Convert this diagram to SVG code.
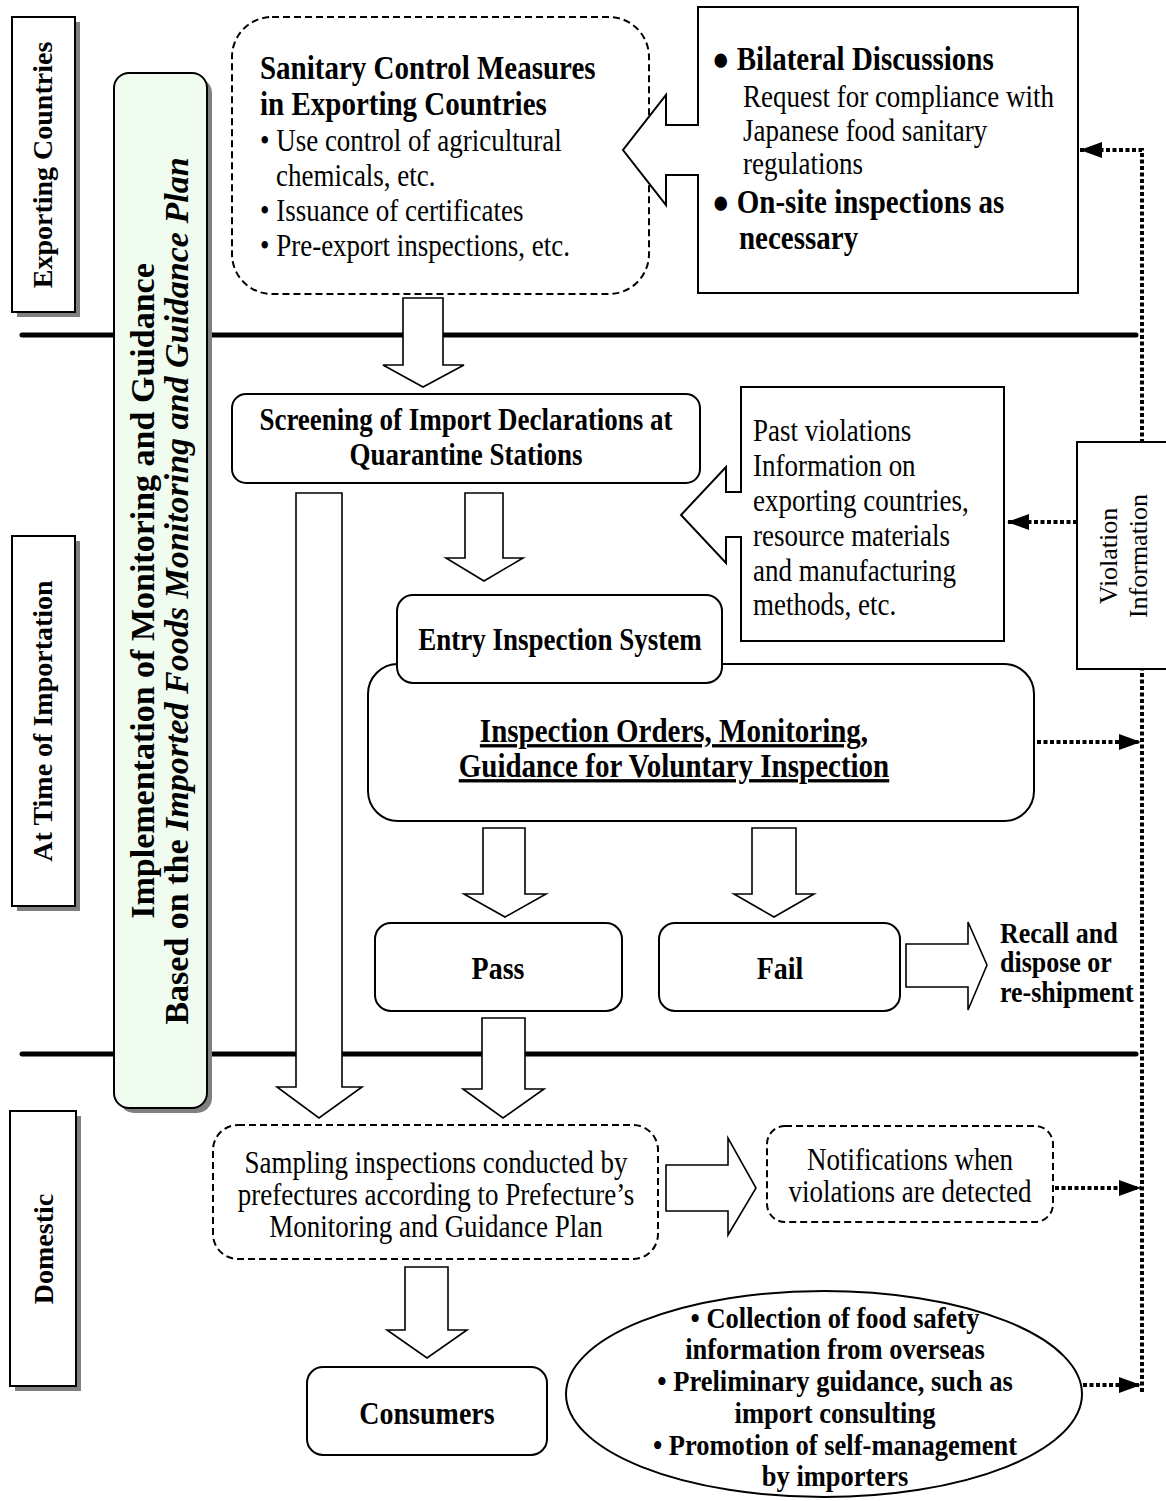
<svg xmlns="http://www.w3.org/2000/svg" width="1166" height="1501" viewBox="0 0 1166 1501">
<defs>
<style>
text{font-family:"Liberation Serif","Times New Roman",serif;fill:#000}
.b{font-weight:bold}
.h{font-size:28px;font-weight:bold}
.h9{font-size:29px;font-weight:bold}
.r{font-size:27px}
.c{text-anchor:middle}
.box{fill:#fff;stroke:#000;stroke-width:2}
.dash{fill:#fff;stroke:#000;stroke-width:2;stroke-dasharray:7 4}
.shadow{fill:#808080}
.barrow{fill:#fff;stroke:#000;stroke-width:1.6;stroke-linejoin:miter}
.dot{fill:none;stroke:#000;stroke-width:4;stroke-dasharray:4 2.5}
.divider{stroke:#000;stroke-width:5;stroke-linecap:round}
</style>
<marker id="ah" viewBox="0 0 22 16" refX="22" refY="8" markerWidth="22" markerHeight="16" markerUnits="userSpaceOnUse" orient="auto">
<path d="M0,0 L22,8 L0,16 Z" fill="#000"/>
</marker>
</defs>
<rect width="1166" height="1501" fill="#fff"/>

<g id="dividers">
<line class="divider" x1="22" y1="335" x2="1136" y2="335"/>
<line class="divider" x1="22" y1="1054" x2="1136" y2="1054"/>
</g>

<g id="label-exporting">
<rect class="shadow" x="17" y="22" width="63" height="295"/>
<rect class="box" x="12" y="17" width="63" height="295"/>
<text class="h c" transform="translate(52,165) rotate(-90)">Exporting Countries</text>
</g>
<g id="label-importation">
<rect class="shadow" x="17" y="541" width="63" height="370"/>
<rect class="box" x="12" y="536" width="63" height="370"/>
<text class="h c" transform="translate(52,721) rotate(-90)">At Time of Importation</text>
</g>
<g id="label-domestic">
<rect class="shadow" x="15" y="1116" width="66" height="275"/>
<rect class="box" x="10" y="1111" width="66" height="275"/>
<text class="h c" transform="translate(53,1249) rotate(-90)">Domestic</text>
</g>

<g id="plan-box">
<rect class="shadow" x="119" y="78" width="93" height="1035" rx="15"/>
<rect x="114" y="73" width="93" height="1035" rx="15" fill="#effcef" stroke="#000" stroke-width="2"/>
<text class="b c" font-size="34" transform="translate(154,591) rotate(-90)">Implementation of Monitoring and Guidance</text>
<text class="b c" font-size="34" transform="translate(188,591) rotate(-90)">Based on the <tspan font-style="italic">Imported Foods Monitoring and Guidance Plan</tspan></text>
</g>

<g id="connectors">
<polygon class="barrow" points="403,298 443,298 443,365 464,365 423,387 383,365 403,365"/>
<polygon class="barrow" points="296,493 342,493 342,1087 362,1087 319,1118 277,1087 296,1087"/>
<polygon class="barrow" points="465,493 503,493 503,558 523,558 484,581 446,558 465,558"/>
<polygon class="barrow" points="483,828 525,828 525,894 546,894 505,917 464,894 483,894"/>
<polygon class="barrow" points="752,828 796,828 796,894 814,894 774,917 734,894 752,894"/>
<polygon class="barrow" points="906,944 968,944 968,922 987,965 968,1010 968,987 906,987"/>
<polygon class="barrow" points="482,1018 525,1018 525,1089 544,1089 503,1118 463,1089 482,1089"/>
<polygon class="barrow" points="666,1165 728,1165 728,1138 756,1188 728,1235 728,1211 666,1211"/>
<polygon class="barrow" points="405,1267 448,1267 448,1330 467,1330 427,1358 387,1330 405,1330"/>
<path class="dot" d="M1142,1392 L1142,150 L1080,150" marker-end="url(#ah)"/>
<path class="dot" d="M1077,522 L1007,522" marker-end="url(#ah)"/>
<path class="dot" d="M1037,742 L1141,742" marker-end="url(#ah)"/>
<path class="dot" d="M1055,1188 L1141,1188" marker-end="url(#ah)"/>
<path class="dot" d="M1083,1385 L1141,1385" marker-end="url(#ah)"/>
</g>

<g id="sanitary">
<rect class="dash" x="232" y="17" width="417" height="277" rx="40"/>
<text class="h9" x="260" y="79" transform="matrix(1,0,0,1.15,0,-11.85)">Sanitary Control Measures</text>
<text class="h9" x="260" y="115" transform="matrix(1,0,0,1.15,0,-17.25)">in Exporting Countries</text>
<text class="r" x="260" y="151" transform="matrix(1,0,0,1.15,0,-22.65)">• Use control of agricultural</text>
<text class="r" x="276" y="186" transform="matrix(1,0,0,1.15,0,-27.9)">chemicals, etc.</text>
<text class="r" x="260" y="221" transform="matrix(1,0,0,1.15,0,-33.15)">• Issuance of certificates</text>
<text class="r" x="260" y="256" transform="matrix(1,0,0,1.15,0,-38.4)">• Pre-export inspections, etc.</text>
</g>

<g id="bilateral">
<path class="box" d="M698,7 L1078,7 L1078,293 L698,293 L698,175 L666,175 L666,205 L623,150 L666,95 L666,125 L698,125 Z"/>
<text class="h9" x="712" y="70" transform="matrix(1,0,0,1.15,0,-10.5)">● Bilateral Discussions</text>
<text class="r" x="743" y="107" transform="matrix(1,0,0,1.15,0,-16.05)">Request for compliance with</text>
<text class="r" x="743" y="141" transform="matrix(1,0,0,1.15,0,-21.15)">Japanese food sanitary</text>
<text class="r" x="743" y="174" transform="matrix(1,0,0,1.15,0,-26.1)">regulations</text>
<text class="h9" x="712" y="213" transform="matrix(1,0,0,1.15,0,-31.95)">● On-site inspections as</text>
<text class="h9" x="739" y="249" transform="matrix(1,0,0,1.15,0,-37.35)">necessary</text>
</g>

<g id="screening">
<rect class="box" x="232" y="394" width="468" height="89" rx="14"/>
<text class="b c" font-size="27" x="466" y="430" transform="matrix(1,0,0,1.15,0,-64.5)">Screening of Import Declarations at</text>
<text class="b c" font-size="27" x="466" y="465" transform="matrix(1,0,0,1.15,0,-69.75)">Quarantine Stations</text>
</g>

<g id="past-violations">
<path class="box" d="M741,387 L1004,387 L1004,641 L741,641 L741,537 L726,537 L726,563 L681,515 L726,467 L726,492 L741,492 Z"/>
<text class="r" x="753" y="441" transform="matrix(1,0,0,1.15,0,-66.15)">Past violations</text>
<text class="r" x="753" y="476" transform="matrix(1,0,0,1.15,0,-71.4)">Information on</text>
<text class="r" x="753" y="511" transform="matrix(1,0,0,1.15,0,-76.65)">exporting countries,</text>
<text class="r" x="753" y="546" transform="matrix(1,0,0,1.15,0,-81.9)">resource materials</text>
<text class="r" x="753" y="581" transform="matrix(1,0,0,1.15,0,-87.15)">and manufacturing</text>
<text class="r" x="753" y="615" transform="matrix(1,0,0,1.15,0,-92.25)">methods, etc.</text>
</g>

<g id="violation-info">
<rect class="box" x="1077" y="442" width="95" height="227"/>
<text class="c" font-size="26" transform="translate(1117,556) rotate(-90)">Violation</text>
<text class="c" font-size="26" transform="translate(1147,556) rotate(-90)">Information</text>
</g>

<g id="inspection-orders">
<rect class="box" x="368" y="664" width="666" height="157" rx="30"/>
<text class="b c" font-size="29" x="674" y="742" text-decoration="underline" transform="matrix(1,0,0,1.15,0,-111.3)">Inspection Orders, Monitoring,</text>
<text class="b c" font-size="29" x="674" y="777" text-decoration="underline" transform="matrix(1,0,0,1.15,0,-116.55)">Guidance for Voluntary Inspection</text>
</g>

<g id="entry-inspection">
<rect class="box" x="397" y="595" width="325" height="88" rx="16"/>
<text class="b c" font-size="27" x="560" y="650" transform="matrix(1,0,0,1.15,0,-97.5)">Entry Inspection System</text>
</g>

<g id="pass">
<rect class="box" x="375" y="923" width="247" height="88" rx="16"/>
<text class="h c" x="498" y="979" transform="matrix(1,0,0,1.15,0,-146.85)">Pass</text>
</g>

<g id="fail">
<rect class="box" x="659" y="923" width="241" height="88" rx="16"/>
<text class="h c" x="780" y="979" transform="matrix(1,0,0,1.15,0,-146.85)">Fail</text>
</g>

<g id="recall">
<text class="b" font-size="26" x="1000" y="943" transform="matrix(1,0,0,1.15,0,-141.45)">Recall and</text>
<text class="b" font-size="26" x="1000" y="972" transform="matrix(1,0,0,1.15,0,-145.8)">dispose or</text>
<text class="b" font-size="26" x="1000" y="1002" transform="matrix(1,0,0,1.15,0,-150.3)">re-shipment</text>
</g>

<g id="sampling">
<rect class="dash" x="213" y="1125" width="445" height="134" rx="25"/>
<text class="r c" x="436" y="1173" transform="matrix(1,0,0,1.15,0,-175.95)">Sampling inspections conducted by</text>
<text class="r c" x="436" y="1205" transform="matrix(1,0,0,1.15,0,-180.75)">prefectures according to Prefecture’s</text>
<text class="r c" x="436" y="1237" transform="matrix(1,0,0,1.15,0,-185.55)">Monitoring and Guidance Plan</text>
</g>

<g id="notifications">
<rect class="dash" x="767" y="1126" width="286" height="96" rx="18"/>
<text class="r c" x="910" y="1170" transform="matrix(1,0,0,1.15,0,-175.5)">Notifications when</text>
<text class="r c" x="910" y="1202" transform="matrix(1,0,0,1.15,0,-180.3)">violations are detected</text>
</g>

<g id="consumers">
<rect class="box" x="307" y="1367" width="240" height="88" rx="16"/>
<text class="h c" x="427" y="1424" transform="matrix(1,0,0,1.15,0,-213.6)">Consumers</text>
</g>

<g id="overseas-info">
<ellipse class="box" cx="824" cy="1394" rx="258" ry="103"/>
<text class="b c" font-size="26.5" x="835" y="1328" transform="matrix(1,0,0,1.15,0,-199.2)">• Collection of food safety</text>
<text class="b c" font-size="26.5" x="835" y="1359" transform="matrix(1,0,0,1.15,0,-203.85)">information from overseas</text>
<text class="b c" font-size="26.5" x="835" y="1391" transform="matrix(1,0,0,1.15,0,-208.65)">• Preliminary guidance, such as</text>
<text class="b c" font-size="26.5" x="835" y="1423" transform="matrix(1,0,0,1.15,0,-213.45)">import consulting</text>
<text class="b c" font-size="26.5" x="835" y="1455" transform="matrix(1,0,0,1.15,0,-218.25)">• Promotion of self-management</text>
<text class="b c" font-size="26.5" x="835" y="1486" transform="matrix(1,0,0,1.15,0,-222.9)">by importers</text>
</g>
</svg>
